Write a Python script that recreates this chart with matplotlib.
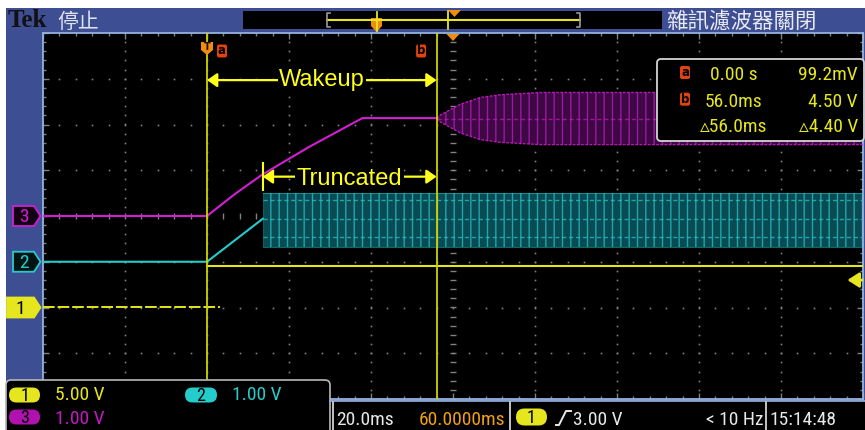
import matplotlib
matplotlib.use('Agg')
import matplotlib.pyplot as plt
import numpy as np
from matplotlib import font_manager as fm
from matplotlib.patches import Polygon, FancyBboxPatch, Rectangle
from matplotlib.ticker import MultipleLocator

# ---------------- chart data ----------------
TIME_PER_DIV = 20.0            # ms / div
TRIGGER_DIV = 2                # t = 0 sits 2 div from the left edge
N_HDIV, N_VDIV = 10, 8

CH_SCALE = {1: 5.0, 2: 1.0, 3: 1.0}      # V / div
CH_POS = {1: -2.0, 2: -1.0, 3: 0.0}      # div
CH_SCALE_LABELS = {1: '5.00 V', 2: '1.00 V', 3: '1.00 V'}

ch1_low_t = [-40.0, 3.2]
ch1_low_v = [0.0992, 0.0992]
ch1_high_t = [0.0, 160.0]
ch1_high_v = [4.50, 4.50]

ch2_t = [-40.0, 0.0, 13.6]
ch2_v = [0.0, 0.0, 0.94]
ch2_burst_t = [13.6, 160.0]
ch2_burst_lo = [0.33, 0.33]
ch2_burst_hi = [1.50, 1.50]
ch2_burst_rows = [1.35, 0.94, 0.54]

ch3_t = [-40.0, 0.0, 6.8, 13.4, 24.9, 37.9, 56.0]
ch3_v = [0.0, 0.0, 0.48, 0.90, 1.51, 2.14, 2.14]
ch3_burst_t = [56.0, 56.8, 61.7, 66.6, 71.5, 81.2, 160.0]
ch3_burst_amp = [0.0, 0.07, 0.31, 0.46, 0.52, 0.57, 0.57]
ch3_burst_mid = 2.13

cursor_a = 0.0
cursor_b = 56.0
trigger_level = 3.00

meas_icons = ['a', 'b', '']
meas_time = ['0.00 s', '56.0ms', '\u25b556.0ms']
meas_volt = ['99.2mV', '4.50 V', '\u25b54.40 V']

wakeup_span = (0.0, 56.0)
wakeup_y = 2.97
trunc_span = (13.6, 56.0)
trunc_y = 0.86

timebase_label = '20.0ms'
hpos_label = '60.0000ms'
trig_label = '3.00 V'
trig_freq = '< 10 Hz'
clock_label = '15:14:48'
header_state = '停止'
header_right = '雜訊濾波器關閉'

# ---------------- fonts ----------------
names = {f.name for f in fm.fontManager.ttflist}
def pick(*c):
    for n in c:
        if n in names:
            return n
    return 'DejaVu Sans'
NARROW = pick('Liberation Sans Narrow', 'Arial Narrow', 'Roboto Condensed')
STRETCH = 'normal'
SZ = 14
if NARROW == 'DejaVu Sans':
    if any(f.name == 'DejaVu Sans' and 'ondensed' in f.fname for f in fm.fontManager.ttflist):
        STRETCH = 'condensed'
        SZ = 11.3
    else:
        SZ = 10.5
SANS = pick('Liberation Sans', 'Arial')
SERIF = pick('Liberation Serif', 'DejaVu Serif')
CJK = 'Noto Sans CJK TC'
SCOPE = dict(family=[NARROW, 'DejaVu Sans'], stretch=STRETCH)

# ---------------- colours ----------------
BLUE = '#3e4e93'
LBLUE = '#93b3df'
GRID = '#808080'
YEL = '#e6e61e'
CUR = '#d2d200'
TXTY = '#ffff1a'
CYAN = '#25cccc'
MAG = '#d21fd2'
ORANGE = '#f08c10'
RED = '#e2420e'
WHITE = '#e8e8e8'

W, H = 865, 430
fig = plt.figure(figsize=(W / 100, H / 100), dpi=100)
fig.patch.set_facecolor('white')
bg = fig.add_axes([0, 0, 1, 1], zorder=0)
ax = fig.add_axes([43 / W, (H - 399) / H, 820 / W, 366 / H], zorder=1)
ui = fig.add_axes([0, 0, 1, 1], zorder=2)
for u in (bg, ui):
    u.set_xlim(0, W)
    u.set_ylim(H, 0)
    u.set_axis_off()

bg.add_patch(Rectangle((6, 8), W - 6, H - 8, fc=BLUE, ec='none'))
bg.add_patch(Rectangle((330, 401), W - 330, 30, fc='black', ec='none'))

# ---------------- graticule ----------------
ax.set_facecolor('black')
ax.set_xlim(-TRIGGER_DIV * TIME_PER_DIV, (N_HDIV - TRIGGER_DIV) * TIME_PER_DIV)
ax.set_ylim(-N_VDIV / 2, N_VDIV / 2)
ax.xaxis.set_major_locator(MultipleLocator(TIME_PER_DIV))
ax.xaxis.set_minor_locator(MultipleLocator(TIME_PER_DIV / 5))
ax.yaxis.set_major_locator(MultipleLocator(1))
ax.yaxis.set_minor_locator(MultipleLocator(0.2))
ax.tick_params(which='both', direction='in', top=True, right=True, bottom=True, left=True,
               labelbottom=False, labelleft=False, color=GRID)
ax.tick_params(which='major', length=4.5, width=1)
ax.tick_params(which='minor', length=2.5, width=1)
for s in ax.spines.values():
    s.set_color(LBLUE)
    s.set_linewidth(1.3)

x0, x1 = ax.get_xlim()
xs_minor = np.arange(x0, x1 + 1e-9, TIME_PER_DIV / 5)
ys_minor = np.arange(-N_VDIV / 2, N_VDIV / 2 + 1e-9, 0.2)
for k in range(1, N_HDIV):
    xv = x0 + k * TIME_PER_DIV
    if k == N_HDIV // 2:
        ax.plot(np.full_like(ys_minor, xv), ys_minor, ls='none', marker='_', ms=4.5, mew=1,
                color=GRID, zorder=1)
    else:
        ax.plot(np.full_like(ys_minor, xv), ys_minor, ls='none', marker='s', ms=1.2, mew=0,
                color=GRID, zorder=1)
for k in range(1, N_VDIV):
    yv = -N_VDIV / 2 + k
    if k == N_VDIV // 2:
        ax.plot(xs_minor, np.full_like(xs_minor, yv), ls='none', marker='|', ms=4.5, mew=1,
                color=GRID, zorder=1)
    else:
        ax.plot(xs_minor, np.full_like(xs_minor, yv), ls='none', marker='s', ms=1.2, mew=0,
                color=GRID, zorder=1)


def to_div(ch, v):
    return CH_POS[ch] + np.asarray(v, dtype=float) / CH_SCALE[ch]


# ---------------- bursts ----------------
plt.rcParams['hatch.linewidth'] = 1.0
et = np.array(ch3_burst_t)
amp = np.array(ch3_burst_amp)
ax.fill_between(et, to_div(3, ch3_burst_mid - amp), to_div(3, ch3_burst_mid + amp),
                facecolor='#3e0844', edgecolor='#9c189f', hatch='||', linewidth=0, zorder=2)
ax.plot(et, to_div(3, ch3_burst_mid + amp), color=MAG, lw=1.0, alpha=0.8, dashes=(2, 1), zorder=3)
ax.plot(et, to_div(3, ch3_burst_mid - amp), color=MAG, lw=1.0, alpha=0.8, dashes=(2, 1), zorder=3)
ax.plot(et, to_div(3, np.full_like(et, ch3_burst_mid)), color=MAG, lw=1.0, alpha=0.6,
        dashes=(3, 2), zorder=3)

ax.fill_between(ch2_burst_t, to_div(2, ch2_burst_lo), to_div(2, ch2_burst_hi),
                facecolor='#0a4a52', edgecolor='#1ca6ae', hatch='||', linewidth=0, zorder=2)
for r in ch2_burst_rows:
    ax.plot(ch2_burst_t, to_div(2, [r, r]), color=CYAN, lw=1.0, alpha=0.7, dashes=(3, 2), zorder=3)
ax.plot(ch2_burst_t, to_div(2, ch2_burst_hi), color=CYAN, lw=0.8, alpha=0.5, zorder=3)
ax.plot(ch2_burst_t, to_div(2, ch2_burst_lo), color=CYAN, lw=0.8, alpha=0.5, zorder=3)

# ---------------- traces ----------------
ax.plot(ch3_t, to_div(3, ch3_v), color=MAG, lw=1.5, zorder=4)
ax.plot(ch2_t, to_div(2, ch2_v), color=CYAN, lw=1.5, zorder=4)
ax.plot(ch1_low_t, to_div(1, ch1_low_v), color=YEL, lw=1.4, dashes=(6, 1.5), zorder=4)
ax.plot(ch1_high_t, to_div(1, ch1_high_v), color=YEL, lw=1.5, zorder=4)

# cursors
ax.axvline(cursor_a, color=CUR, lw=1.3, zorder=6)
ax.axvline(cursor_b, color=CUR, lw=1.3, zorder=6)

# annotations
akw = dict(arrowstyle='<|-|>,head_length=0.6,head_width=0.42', color=TXTY, lw=1.6,
           shrinkA=0, shrinkB=0, mutation_scale=10)
ax.annotate('', xy=(wakeup_span[0], wakeup_y), xytext=(wakeup_span[1], wakeup_y),
            arrowprops=akw, zorder=7)
ax.text(np.mean(wakeup_span), wakeup_y, 'Wakeup', color=TXTY, fontsize=17, family=SANS,
        ha='center', va='center', bbox=dict(fc='black', ec='none', pad=1.0), zorder=8)
ax.annotate('', xy=(trunc_span[0], trunc_y), xytext=(trunc_span[1], trunc_y),
            arrowprops=akw, zorder=7)
ax.text(np.mean(trunc_span), trunc_y - 0.05, 'Truncated', color=TXTY, fontsize=17, family=SANS,
        ha='center', va='center', bbox=dict(fc='black', ec='none', pad=1.0), zorder=8)
ax.plot([trunc_span[0], trunc_span[0]], [trunc_y - 0.29, trunc_y + 0.3], color=TXTY, lw=1.5, zorder=7)

# trigger level arrow on right edge
ty = float(to_div(1, trigger_level))
ax.annotate('', xy=(0.981, ty), xycoords=('axes fraction', 'data'),
            xytext=(0.999, ty), textcoords=('axes fraction', 'data'),
            arrowprops=dict(arrowstyle='-|>,head_length=0.7,head_width=0.45', color=YEL, lw=2,
                            shrinkA=0, shrinkB=0, mutation_scale=10),
            annotation_clip=False, zorder=8)


def tpx(t):
    return ax.transData.transform((t, 0))[0]


def dpy(d):
    return H - ax.transData.transform((0, d))[1]


# ---------------- header ----------------
ui.text(8, 27, 'Tek', family=SERIF, weight='bold', fontsize=18, color='#111111', va='baseline')
ui.text(57, 28, header_state, family=[CJK, 'DejaVu Sans'], fontsize=15, color='#dfe3ee', va='baseline')
ui.text(666, 27.5, header_right, family=[CJK, 'DejaVu Sans'], fontsize=15.5, color='#e8eaf2',
        va='baseline')
ui.add_patch(Rectangle((243, 11), 419, 18, fc='black', ec='none'))
ui.plot([327, 580], [19.5, 19.5], color=YEL, lw=1.5)
ui.plot([330, 327, 327, 330], [13, 13, 27, 27], color='#9a9a9a', lw=1.2)
ui.plot([577, 580, 580, 577], [13, 13, 27, 27], color='#9a9a9a', lw=1.2)
ui.plot([376.5, 376.5], [12, 31], color=YEL, lw=1.3)
ui.add_patch(Polygon([(371, 18), (382, 18), (382, 26), (376.5, 32), (371, 26)], fc=ORANGE, ec='none'))
ui.plot([448, 448], [11, 29], color=YEL, lw=1.3)
ui.add_patch(Polygon([(448, 10), (461, 10), (454.5, 17)], fc=ORANGE, ec='none'))

# screen markers on top
xc = tpx(x0 + N_HDIV / 2 * TIME_PER_DIV)
ui.add_patch(Polygon([(xc - 6.5, 34), (xc + 6.5, 34), (xc, 41)], fc=ORANGE, ec='none'))
xa = tpx(cursor_a)
ui.add_patch(Polygon([(xa - 6, 42), (xa + 6, 42), (xa + 6, 50), (xa, 55), (xa - 6, 50)],
                     fc=ORANGE, ec='none'))
ui.text(xa, 50, 'T', color='#201000', fontsize=7, weight='bold', ha='center', va='baseline',
        family='DejaVu Sans')


def icon(x, y, letter):
    ui.add_patch(FancyBboxPatch((x - 5, y - 6.5), 10, 13, boxstyle='round,pad=0,rounding_size=2',
                                fc=RED, ec='none'))
    ui.text(x, y + 3.5, letter, color='black', fontsize=8.5, weight='bold', ha='center',
            va='baseline', family='DejaVu Sans')


icon(xa + 15, 51, 'a')
icon(tpx(cursor_b) - 15.5, 51, 'b')

# ---------------- measurement box ----------------
ui.add_patch(FancyBboxPatch((657, 59), 207, 82, boxstyle='round,pad=0,rounding_size=4',
                            fc='black', ec='#d4d4d4', lw=1.3))
rows_y = [80, 106.7, 132]
for ic, tt, vv, yb in zip(meas_icons, meas_time, meas_volt, rows_y):
    if ic:
        icon(685, yb - 7.5, ic)
    ui.text(734, yb, tt, color=YEL, fontsize=SZ, ha='center', va='baseline', **SCOPE)
    ui.text(858, yb, vv, color=YEL, fontsize=SZ, ha='right', va='baseline', **SCOPE)

# ---------------- channel markers on the left ----------------
def ch_marker(ch, xl, fc, ec, tc):
    yc = dpy(CH_POS[ch])
    h = 10
    ui.add_patch(Polygon([(xl, yc - h), (34, yc - h), (40.5, yc), (34, yc + h), (xl, yc + h)],
                         closed=True, fc=fc, ec=ec, lw=1.3))
    ui.text((xl + 34) / 2, yc + 6.5, str(ch), color=tc, fontsize=SZ, ha='center', va='baseline',
            **SCOPE)


ch_marker(3, 13, '#140014', MAG, MAG)
ch_marker(2, 13, '#001414', CYAN, CYAN)
ch_marker(1, 7, YEL, YEL, 'black')

# ---------------- bottom channel box ----------------
ui.add_patch(FancyBboxPatch((6, 380), 324, 56, boxstyle='round,pad=0,rounding_size=5',
                            fc='black', ec='#b8b8b8', lw=1.2))


def pill(x, yc, w, h, color, label):
    ui.add_patch(FancyBboxPatch((x, yc - h / 2), w, h, boxstyle=f'round,pad=0,rounding_size={h / 2}',
                                fc=color, ec='none'))
    ui.text(x + w / 2, yc + 6.2, label, color='black', fontsize=SZ - 1, ha='center', va='baseline',
            **SCOPE)


pill(9, 395, 31, 15, YEL, '1')
ui.text(55, 400, CH_SCALE_LABELS[1], color=YEL, fontsize=SZ, va='baseline', **SCOPE)
pill(185, 395, 32, 15, CYAN, '2')
ui.text(232, 400, CH_SCALE_LABELS[2], color=CYAN, fontsize=SZ, va='baseline', **SCOPE)
pill(9, 417, 31, 15, '#b012b0', '3')
ui.text(55, 423.5, CH_SCALE_LABELS[3], color='#c418c4', fontsize=SZ, va='baseline', **SCOPE)

# ---------------- status bar ----------------
ui.plot([330, W], [400.5, 400.5], color=LBLUE, lw=1.2)
for xs in (332.5, 509.5, 766):
    ui.plot([xs, xs], [402, H], color='#c4c4c4', lw=1.4)
ui.text(336, 425, timebase_label, color=WHITE, fontsize=SZ, va='baseline', **SCOPE)
ui.text(505, 425, hpos_label, color='#f0a010', fontsize=SZ, ha='right', va='baseline', **SCOPE)
pill(516, 417, 31, 17, YEL, '1')
ui.plot([556, 559, 566, 571], [425, 425, 411, 411], color=WHITE, lw=1.4)
ui.text(573, 425, trig_label, color=WHITE, fontsize=SZ, va='baseline', **SCOPE)
ui.text(763, 425, trig_freq, color=WHITE, fontsize=SZ, ha='right', va='baseline', **SCOPE)
ui.text(769, 425, clock_label, color=WHITE, fontsize=SZ, va='baseline', **SCOPE)

fig.savefig('out.png', dpi=100, facecolor=fig.get_facecolor())
